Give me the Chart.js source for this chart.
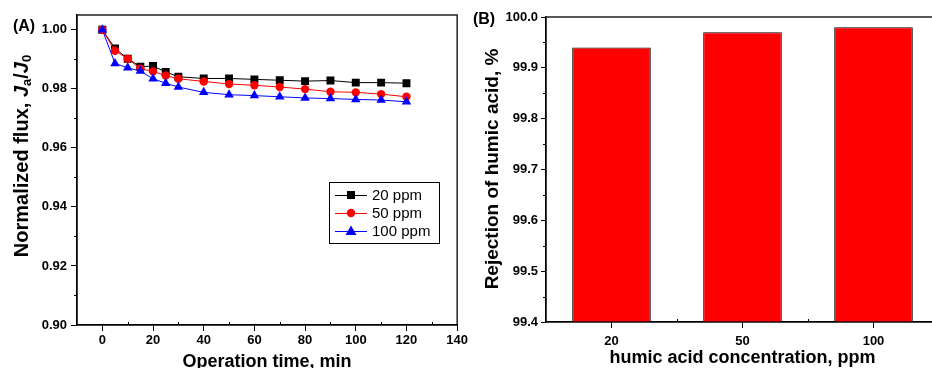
<!DOCTYPE html>
<html>
<head>
<meta charset="utf-8">
<script src="https://cdn.jsdelivr.net/npm/chart.js@4.4.0/dist/chart.umd.min.js"></script>
<style>
html, body { margin: 0; padding: 0; width: 932px; height: 368px; overflow: hidden; background: #fff; }
#painelA { position: absolute; left: 0; top: 0; }
#painelB { position: absolute; left: 466px; top: 0; }
</style>
</head>
<body>
<canvas id="painelA" width="470" height="371"></canvas>
<canvas id="painelB" width="480" height="371"></canvas>
<script>
// Dados do painel (A): fluxo normalizado x tempo
const tempos = [0, 5, 10, 15, 20, 25, 30, 40, 50, 60, 70, 80, 90, 100, 110, 120];
const fluxo20 = [1.000, 0.9937, 0.9902, 0.9875, 0.9877, 0.9857, 0.9841, 0.9835, 0.9835, 0.9832, 0.9829, 0.9826, 0.9828, 0.9821, 0.9821, 0.9819];
const fluxo50 = [1.000, 0.9929, 0.9902, 0.9868, 0.9859, 0.9845, 0.9834, 0.9825, 0.9816, 0.9812, 0.9806, 0.9799, 0.9790, 0.9788, 0.9782, 0.9773];
const fluxo100 = [1.000, 0.9886, 0.9871, 0.9860, 0.9834, 0.9819, 0.9806, 0.9788, 0.9780, 0.9777, 0.9773, 0.9769, 0.9767, 0.9764, 0.9762, 0.9756];
const ticksXA = [0, 20, 40, 60, 80, 100, 120, 140];
const ticksYA = [0.90, 0.92, 0.94, 0.96, 0.98, 1.00];

// Dados do painel (B): rejeição x concentração
const concentracoes = ['20', '50', '100'];
const rejeicao = [99.94, 99.97, 99.98];
const ticksYB = [99.4, 99.5, 99.6, 99.7, 99.8, 99.9, 100.0];

const fonte = '"Liberation Sans", Arial, sans-serif';
const fonteTicks = { family: fonte, size: 13, weight: 'bold' };

function paraPontos(valores) {
    return tempos.map((t, i) => ({ x: t, y: valores[i] }));
}

// Desenha texto girado com partes de fontes diferentes (subscritos)
function tituloVertical(ctx, partes, cx, cy) {
    ctx.save();
    ctx.translate(cx, cy);
    ctx.rotate(-Math.PI / 2);
    ctx.fillStyle = '#000';
    ctx.textBaseline = 'middle';
    ctx.textAlign = 'left';
    let total = 0;
    partes.forEach(p => { ctx.font = p.font; total += ctx.measureText(p.text).width; });
    let x = -total / 2;
    partes.forEach(p => {
        ctx.font = p.font;
        ctx.fillText(p.text, x, p.dy || 0);
        x += ctx.measureText(p.text).width;
    });
    ctx.restore();
}

function texto(ctx, txt, x, y, font, align, base) {
    ctx.save();
    ctx.fillStyle = '#000';
    ctx.font = font;
    ctx.textAlign = align || 'center';
    ctx.textBaseline = base || 'middle';
    ctx.fillText(txt, x, y);
    ctx.restore();
}

function moldura(chart) {
    const { ctx, chartArea: a } = chart;
    ctx.save();
    ctx.strokeStyle = '#000';
    ctx.lineWidth = 1.3;
    ctx.strokeRect(a.left, a.top, a.right - a.left, a.bottom - a.top);
    ctx.restore();
}

function marcador(ctx, estilo, x, y, cor) {
    ctx.save();
    ctx.fillStyle = cor;
    ctx.beginPath();
    if (estilo === 'rect') {
        ctx.rect(x - 4, y - 4, 8, 8);
    } else if (estilo === 'circle') {
        ctx.arc(x, y, 4.2, 0, Math.PI * 2);
    } else {
        ctx.moveTo(x, y - 5.5);
        ctx.lineTo(x + 5.5, y + 4);
        ctx.lineTo(x - 5.5, y + 4);
        ctx.closePath();
    }
    ctx.fill();
    ctx.restore();
}

// Extras do painel A: moldura, ticks menores, títulos e legenda
const extrasA = {
    id: 'extrasA',
    afterDraw(chart) {
        const { ctx, chartArea: a, scales } = chart;
        moldura(chart);
        ctx.save();
        ctx.strokeStyle = '#000';
        ctx.lineWidth = 1;
        for (let v = 0.91; v < 1.0; v += 0.02) {
            const y = Math.round(scales.y.getPixelForValue(v)) + 0.5;
            ctx.beginPath(); ctx.moveTo(a.left - 3, y); ctx.lineTo(a.left, y); ctx.stroke();
        }
        for (let v = 10; v < 140; v += 20) {
            const x = Math.round(scales.x.getPixelForValue(v)) + 0.5;
            ctx.beginPath(); ctx.moveTo(x, a.bottom); ctx.lineTo(x, a.bottom - 3); ctx.stroke();
        }
        ctx.restore();

        const b = 'bold 20px ' + fonte;
        const bi = 'italic bold 20px ' + fonte;
        const bs = 'bold 13px ' + fonte;
        tituloVertical(ctx, [
            { text: 'Normalized flux, ', font: b },
            { text: 'J', font: bi },
            { text: 'a', font: bs, dy: 5 },
            { text: '/', font: b },
            { text: 'J', font: bi },
            { text: '0', font: bs, dy: 5 }
        ], 22, 156);
        texto(ctx, 'Operation time, min', (a.left + a.right) / 2, 367, 'bold 18px ' + fonte, 'center', 'alphabetic');
        texto(ctx, '(A)', 24, 27, 'bold 16px ' + fonte);

        // legenda dentro da área do gráfico
        const lx = 329, ly = 182;
        ctx.save();
        ctx.strokeStyle = '#000';
        ctx.lineWidth = 1;
        ctx.strokeRect(lx + 0.5, ly + 0.5, 110, 61);
        ctx.restore();
        const itens = [
            { rotulo: '20 ppm', cor: '#000000', estilo: 'rect' },
            { rotulo: '50 ppm', cor: '#ff0000', estilo: 'circle' },
            { rotulo: '100 ppm', cor: '#0000ff', estilo: 'triangle' }
        ];
        itens.forEach((it, i) => {
            const y = ly + 13 + i * 18;
            ctx.save();
            ctx.strokeStyle = it.cor;
            ctx.lineWidth = 1;
            ctx.beginPath(); ctx.moveTo(lx + 6, y + 0.5); ctx.lineTo(lx + 38, y + 0.5); ctx.stroke();
            ctx.restore();
            marcador(ctx, it.estilo, lx + 22, y, it.cor);
            texto(ctx, it.rotulo, lx + 43, y + 1, '15px ' + fonte, 'left', 'middle');
        });
    }
};

// Extras do painel B
const extrasB = {
    id: 'extrasB',
    afterDraw(chart) {
        const { ctx, chartArea: a, scales } = chart;
        moldura(chart);
        ctx.save();
        ctx.strokeStyle = '#000';
        ctx.lineWidth = 1;
        for (let v = 99.45; v < 100; v += 0.1) {
            const y = Math.round(scales.y.getPixelForValue(v)) + 0.5;
            ctx.beginPath(); ctx.moveTo(a.left - 3, y); ctx.lineTo(a.left, y); ctx.stroke();
        }
        for (let i = 0; i < concentracoes.length - 1; i++) {
            const x = Math.round(scales.x.getPixelForValue(i + 0.5)) + 0.5;
            ctx.beginPath(); ctx.moveTo(x, a.bottom); ctx.lineTo(x, a.bottom - 3); ctx.stroke();
        }
        ctx.restore();
        tituloVertical(ctx, [{ text: 'Rejection of humic acid, %', font: 'bold 19px ' + fonte }], 27, 169);
        texto(ctx, 'humic acid concentration, ppm', (a.left + a.right) / 2, 363, 'bold 18px ' + fonte, 'center', 'alphabetic');
        texto(ctx, '(B)', 18, 20, 'bold 16px ' + fonte);
    }
};

new Chart(document.getElementById('painelA'), {
    type: 'line',
    data: {
        datasets: [
            { label: '20 ppm', data: paraPontos(fluxo20), borderColor: '#000000', backgroundColor: '#000000', pointStyle: 'rect', pointRadius: 5.6, order: 2 },
            { label: '50 ppm', data: paraPontos(fluxo50), borderColor: '#ff0000', backgroundColor: '#ff0000', pointStyle: 'circle', pointRadius: 4.2, order: 1 },
            { label: '100 ppm', data: paraPontos(fluxo100), borderColor: '#0000ff', backgroundColor: '#0000ff', pointStyle: 'triangle', pointRadius: 5.5, order: 0 }
        ]
    },
    options: {
        responsive: false,
        animation: false,
        elements: {
            line: { borderWidth: 1, tension: 0 },
            point: { borderWidth: 0, hoverRadius: 5 }
        },
        layout: { padding: { left: 0, top: 15, right: 10, bottom: 0 } },
        plugins: { legend: { display: false }, tooltip: { enabled: false } },
        scales: {
            x: {
                type: 'linear', min: -10, max: 140,
                afterBuildTicks: s => { s.ticks = ticksXA.map(v => ({ value: v })); },
                afterFit: s => { s.height = 46; },
                grid: { drawOnChartArea: false, tickLength: 6, color: '#000' },
                border: { color: '#000', width: 1.3 },
                ticks: { color: '#000', font: fonteTicks, padding: 2, maxRotation: 0 }
            },
            y: {
                min: 0.90, max: 1.005,
                afterBuildTicks: s => { s.ticks = ticksYA.map(v => ({ value: v })); },
                afterFit: s => { s.width = 77; },
                grid: { drawOnChartArea: false, tickLength: 6, color: '#000' },
                border: { color: '#000', width: 1.3 },
                ticks: { color: '#000', font: fonteTicks, padding: 4, callback: v => v.toFixed(2) }
            }
        }
    },
    plugins: [extrasA]
});

new Chart(document.getElementById('painelB'), {
    type: 'bar',
    data: {
        labels: concentracoes,
        datasets: [{
            label: 'Rejection',
            data: rejeicao,
            backgroundColor: '#ff0000',
            borderColor: '#000',
            borderWidth: 1,
            barPercentage: 0.6,
            categoryPercentage: 1
        }]
    },
    options: {
        responsive: false,
        animation: false,
        layout: { padding: { left: 0, top: 17, right: 7, bottom: 0 } },
        plugins: { legend: { display: false }, tooltip: { enabled: false } },
        scales: {
            x: {
                afterFit: s => { s.height = 49; },
                grid: { offset: false, drawOnChartArea: false, tickLength: 6, color: '#000' },
                border: { color: '#000', width: 1.3 },
                ticks: { color: '#000', font: fonteTicks, padding: 6, maxRotation: 0 }
            },
            y: {
                min: 99.4, max: 100.0,
                afterBuildTicks: s => { s.ticks = ticksYB.map(v => ({ value: v })); },
                afterFit: s => { s.width = 80; },
                grid: { drawOnChartArea: false, tickLength: 5, color: '#000' },
                border: { color: '#000', width: 1.3 },
                ticks: { color: '#000', font: fonteTicks, padding: 3, callback: v => v.toFixed(1) }
            }
        }
    },
    plugins: [extrasB]
});
</script>
</body>
</html>
